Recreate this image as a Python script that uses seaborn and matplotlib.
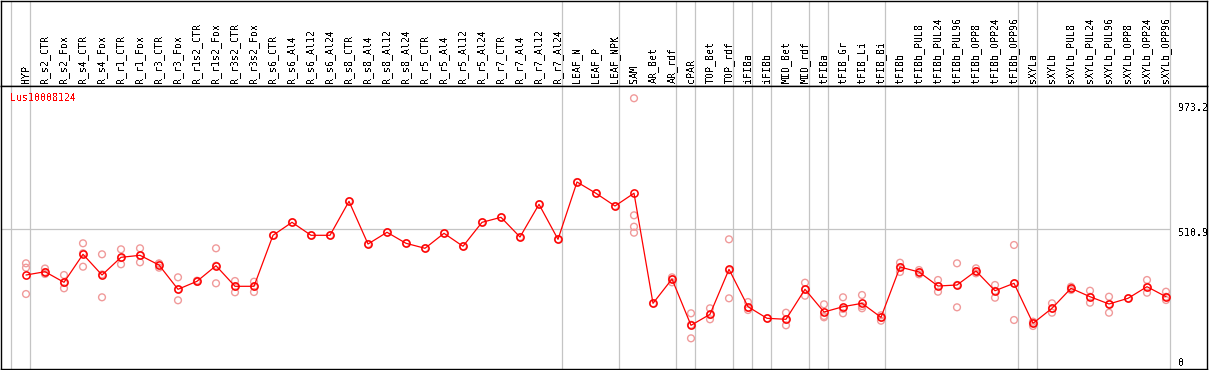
import pandas as pd
import matplotlib
matplotlib.use('Agg')
import matplotlib.pyplot as plt
import matplotlib.transforms as mtransforms
import seaborn as sns

gene = "Lus10008124"

samples = [
    "HYP", "R_s2_CTR", "R_s2_Fox", "R_s4_CTR", "R_s4_Fox", "R_r1_CTR", "R_r1_Fox",
    "R_r3_CTR", "R_r3_Fox", "R_r1s2_CTR", "R_r1s2_Fox", "R_r3s2_CTR", "R_r3s2_Fox",
    "R_s6_CTR", "R_s6_Al4", "R_s6_Al12", "R_s6_Al24", "R_s8_CTR", "R_s8_Al4",
    "R_s8_Al12", "R_s8_Al24", "R_r5_CTR", "R_r5_Al4", "R_r5_Al12", "R_r5_Al24",
    "R_r7_CTR", "R_r7_Al4", "R_r7_Al12", "R_r7_Al24", "LEAF_N", "LEAF_P", "LEAF_NPK",
    "SAM", "AR_Bet", "AR_rdf", "cPAR", "TOP_Bet", "TOP_rdf", "iFIBa", "iFIBb",
    "MID_Bet", "MID_rdf", "tFIBa", "tFIB_Gr", "tFIB_Li", "tFIB_Bi", "tFIBb",
    "tFIBb_PUL8", "tFIBb_PUL24", "tFIBb_PUL96", "tFIBb_OPP8", "tFIBb_OPP24",
    "tFIBb_OPP96", "sXYLa", "sXYLb", "sXYLb_PUL8", "sXYLb_PUL24", "sXYLb_PUL96",
    "sXYLb_OPP8", "sXYLb_OPP24", "sXYLb_OPP96",
]

means = [
    348.0, 359.7, 322.2, 421.3, 348.0, 410.6, 417.7, 383.4, 297.5, 325.8,
    380.9, 308.1, 308.1, 488.5, 534.4, 488.5, 488.5, 608.7, 457.7, 499.1,
    460.2, 442.5, 495.5, 449.6, 534.4, 552.1, 482.4, 598.1, 474.3, 677.0,
    637.0, 592.1, 637.3, 247.9, 333.9, 170.1, 209.0, 368.2, 235.9, 194.9,
    191.4, 297.5, 217.2, 235.9, 247.9, 198.4, 376.3, 358.7, 309.1, 312.7,
    362.2, 292.5, 318.7, 177.2, 230.3, 301.0, 271.3, 245.5, 265.6, 306.7,
    271.3,
]

replicates = [
    [389.4, 373.9, 280.8], [371.0, 358.7, 351.6], [348.0, 320.0, 301.0],
    [460.2, 425.0, 377.4], [421.3, 350.0, 269.2], [438.9, 408.0, 385.9],
    [442.5, 417.0, 393.0], [388.0, 374.0, 389.0], [339.9, 297.0, 258.6],
    [328.0, 325.0, 324.0], [442.5, 381.0, 318.7], [326.8, 308.0, 286.9],
    [324.3, 308.0, 287.9],
    [488.5], [534.4], [488.5], [488.5], [608.7], [457.7], [499.1], [460.2],
    [442.5], [495.5], [449.6], [534.4], [552.1], [482.4], [598.1], [474.3],
    [677.0], [637.0], [592.1],
    [973.2, 559.2, 518.9, 497.7], [247.9], [339.9, 333.0, 322.2],
    [212.6, 172.0, 124.1], [230.3, 207.0, 191.4], [474.3, 365.0, 265.6],
    [252.5, 232.0, 224.2], [194.9], [214.7, 190.0, 170.1],
    [320.8, 297.0, 274.8], [244.4, 203.0, 198.4], [269.2, 228.0, 212.6],
    [277.3, 238.0, 230.3], [205.5, 198.0, 186.4], [391.5, 376.0, 358.7],
    [365.7, 358.0, 350.5], [330.4, 309.0, 289.0], [389.4, 313.0, 233.8],
    [371.7, 362.0, 354.0], [312.7, 292.0, 267.7], [454.2, 318.0, 188.9],
    [182.9, 177.0, 167.7], [247.9, 230.0, 214.7], [306.7, 301.0, 295.0],
    [292.5, 271.0, 250.1], [271.3, 245.0, 214.7], [265.6],
    [330.4, 306.0, 285.4], [289.0, 271.0, 259.6],
]

# group separators: line drawn after these sample indices
group_ends = [-1, 0, 28, 31, 34, 35, 37, 38, 39, 41, 42, 45, 52, 53, 60]
ref_level = 510.9
scale_labels = ["973.2", "510.9", "0"]

mean_df = pd.DataFrame({"pos": range(len(samples)), "value": means})
rep_df = pd.DataFrame(
    [(i, v) for i, vals in enumerate(replicates) for v in vals],
    columns=["pos", "value"],
)

sns.set_theme(style="white")
plt.rcParams['font.family'] = ['DejaVu Sans Mono']
plt.rcParams['text.antialiased'] = False

W, H = 1209, 370
fig = plt.figure(figsize=(W / 100, H / 100), dpi=100)
fig.patch.set_facecolor("white")
ax_h = fig.add_axes([1 / W, (H - 85.5) / H, 1206 / W, 85 / H])
ax = fig.add_axes([1 / W, 1 / H, 1206 / W, 283.5 / H])

xlim = (-25 / 19, 1181 / 19)
grid_c = "#c4c4c4"
for a in (ax, ax_h):
    a.set_xlim(*xlim)
    a.set_xticks([])
    a.set_yticks([])
    a.set_facecolor("white")
    for sp in a.spines.values():
        sp.set_color("black")
        sp.set_linewidth(1.0)
    for g in group_ends:
        a.axvline(g + 0.21, color=grid_c, lw=0.9, zorder=1)
ax_h.set_ylim(0, 1)
ax.set_ylim(15.6, 1018.3)
ax.hlines(ref_level, xlim[0], group_ends[-1] + 0.21, color=grid_c, lw=0.9, zorder=1)

sns.scatterplot(data=rep_df, x="pos", y="value", ax=ax, marker="o", s=24,
                facecolor="none", edgecolor="#f09a9a", linewidth=1.0,
                zorder=3, legend=False)
sns.lineplot(data=mean_df, x="pos", y="value", ax=ax, color="red", lw=0.9,
             marker="o", markersize=5.2, markerfacecolor="none",
             markeredgecolor="red", markeredgewidth=1.1, zorder=4, legend=False)
ax.set_xlabel("")
ax.set_ylabel("")

trans_h = mtransforms.blended_transform_factory(ax_h.transData, ax_h.transAxes)
for i, s in enumerate(samples):
    ax_h.text(i, 0.025, s, rotation=90, ha="center", va="bottom",
              fontsize=7.2, color="black", transform=trans_h)

ax.text(0.0071, 0.974, gene, color="red", fontsize=7.2, ha="left", va="top",
        transform=ax.transAxes)
for lab, yf in zip(scale_labels, [0.937, 0.496, 0.038]):
    ax.text(0.976, yf, lab, color="black", fontsize=7.2, ha="left", va="top",
            transform=ax.transAxes)

fig.savefig("out.png", dpi=100)
